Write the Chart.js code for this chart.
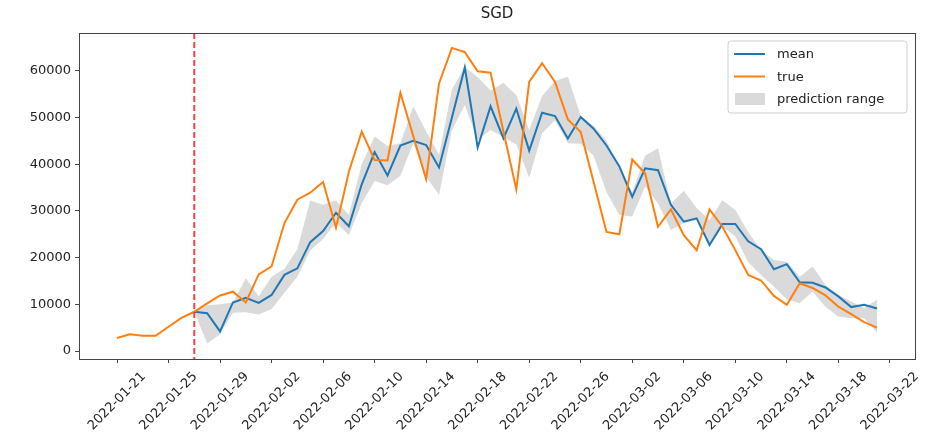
<!DOCTYPE html>
<html>
<head>
<meta charset="utf-8">
<title>SGD</title>
<script src="https://cdn.jsdelivr.net/npm/chart.js@4.4.1/dist/chart.umd.min.js"></script>
<style>
  html, body { margin: 0; padding: 0; background: #fff; }
  #wrap { width: 927px; height: 447px; }
</style>
</head>
<body>
<div id="wrap"><canvas id="sgdChart" width="927" height="447"></canvas></div>
<script>
// ==========================================
// DATA (one point per day, day 0 = 2022-01-21)
// ==========================================
const xTickLabels = ['2022-01-21', '2022-01-25', '2022-01-29', '2022-02-02', '2022-02-06', '2022-02-10',
    '2022-02-14', '2022-02-18', '2022-02-22', '2022-02-26', '2022-03-02', '2022-03-06',
    '2022-03-10', '2022-03-14', '2022-03-18', '2022-03-22'];
const xTickStep = 4;
const yTicks = [0, 10000, 20000, 30000, 40000, 50000, 60000];
const cutoffDay = 6; // 2022-01-27, red dashed line

const trueValues = [2780, 3600, 3270, 3270, 5200, 7100, 8400, 10200, 11900, 12700,
    10400, 16400, 18100, 27400, 32400, 33900, 36200, 26400, 38400, 47000,
    40900, 40800, 55300, 46000, 36800, 57300, 64900, 64000, 59900, 59600,
    47000, 34600, 57600, 61600, 57600, 49600, 46900, 36200, 25500, 25000,
    41000, 38000, 26600, 30300, 24800, 21600, 30300, 26600, 21600, 16300,
    15100, 11800, 9900, 14500, 13500, 11900, 9500, 7900, 6200, 5000];

const meanValues = [null, null, null, null, null, null, 8400, 8100, 4200, 10400,
    11400, 10300, 12000, 16300, 17700, 23300, 25700, 29600, 26700, 35700,
    42600, 37600, 44000, 45000, 44100, 39300, 50000, 60700, 43600, 52400,
    45500, 51900, 42900, 51000, 50300, 45500, 50100, 47600, 44000, 39500,
    33000, 39100, 38700, 31300, 27700, 28400, 22700, 27200, 27200, 23500,
    21800, 17500, 18600, 14700, 14600, 13600, 11700, 9400, 9900, 9100];

const rangeLow = [null, null, null, null, null, null, 8400, 1600, 3600, 8200,
    8300, 7800, 9000, 12500, 15900, 21500, 24000, 27500, 24800, 31700,
    36400, 35500, 37500, 44500, 37300, 33400, 47300, 52600, 45200, 47300,
    45800, 44200, 37100, 46600, 49400, 44500, 44400, 41800, 34000, 29100,
    28800, 35200, 31600, 25900, 27400, 28000, 22300, 26600, 24500, 19000,
    16300, 13800, 11000, 10300, 12700, 9500, 7400, 7000, 7000, 3900];

const rangeHigh = [null, null, null, null, null, null, 8400, 9800, 10000, 10400,
    15600, 11700, 15900, 17600, 21800, 32200, 31300, 32200, 29100, 40000,
    45900, 43900, 44500, 52400, 47000, 42000, 56000, 60800, 58600, 55800,
    57400, 54800, 47300, 54600, 57800, 58700, 50300, 48200, 45000, 39000,
    34000, 41800, 43400, 31600, 34300, 30600, 28000, 32300, 30200, 25500,
    21600, 19500, 19100, 15900, 18100, 14200, 12000, 10600, 9200, 11000];

const FONT = "'DejaVu Sans', sans-serif";
const BLUE = '#1f77b4';
const ORANGE = '#ff7f0e';
const GREY_FILL = 'rgba(150, 150, 150, 0.35)';

function toPoints(values) {
    return values.map((v, i) => ({ x: i, y: v })).filter(p => p.y !== null);
}

// ==========================================
// PLUGIN: frame, title, cutoff line, x labels, legend
// ==========================================
const decorPlugin = {
    id: 'decor',
    afterDraw(chart) {
        const ctx = chart.ctx;
        const area = chart.chartArea;
        const xs = chart.scales.x;

        // linea de corte roja
        const cx = xs.getPixelForValue(cutoffDay);
        ctx.save();
        ctx.strokeStyle = 'rgba(255, 30, 30, 0.85)';
        ctx.lineWidth = 2;
        ctx.setLineDash([6, 3]);
        ctx.beginPath();
        ctx.moveTo(cx, area.top);
        ctx.lineTo(cx, area.bottom);
        ctx.stroke();
        ctx.restore();

        // marco
        ctx.save();
        ctx.strokeStyle = '#444';
        ctx.lineWidth = 1;
        ctx.strokeRect(area.left + 0.5, area.top + 0.5, area.right - area.left, area.bottom - area.top);
        ctx.restore();

        // titulo
        ctx.save();
        ctx.fillStyle = '#222';
        ctx.font = '15px ' + FONT;
        ctx.textAlign = 'center';
        ctx.textBaseline = 'alphabetic';
        ctx.fillText('SGD', (area.left + area.right) / 2, 18);
        ctx.restore();

        // etiquetas del eje x (rotadas 45, centradas en el tick)
        ctx.save();
        ctx.fillStyle = '#222';
        ctx.font = '13px ' + FONT;
        ctx.textAlign = 'center';
        ctx.textBaseline = 'middle';
        xTickLabels.forEach((label, i) => {
            const px = xs.getPixelForValue(i * xTickStep);
            const w = ctx.measureText(label).width;
            const side = (w + 13) * Math.SQRT1_2;
            const cy = area.bottom + 11 + side / 2;
            ctx.save();
            ctx.translate(px, cy);
            ctx.rotate(-Math.PI / 4);
            ctx.fillText(label, 0, 0);
            ctx.restore();
        });
        ctx.restore();

        // leyenda
        const lx = 728, ly = 41, lw = 179, lh = 72, r = 3;
        ctx.save();
        ctx.fillStyle = 'rgba(255,255,255,0.85)';
        ctx.strokeStyle = '#d0d0d0';
        ctx.lineWidth = 1;
        ctx.beginPath();
        ctx.moveTo(lx + r, ly);
        ctx.lineTo(lx + lw - r, ly);
        ctx.quadraticCurveTo(lx + lw, ly, lx + lw, ly + r);
        ctx.lineTo(lx + lw, ly + lh - r);
        ctx.quadraticCurveTo(lx + lw, ly + lh, lx + lw - r, ly + lh);
        ctx.lineTo(lx + r, ly + lh);
        ctx.quadraticCurveTo(lx, ly + lh, lx, ly + lh - r);
        ctx.lineTo(lx, ly + r);
        ctx.quadraticCurveTo(lx, ly, lx + r, ly);
        ctx.closePath();
        ctx.fill();
        ctx.stroke();

        const items = [
            { text: 'mean', color: BLUE, y: 54 },
            { text: 'true', color: ORANGE, y: 76.5 },
            { text: 'prediction range', patch: true, y: 99 }
        ];
        ctx.font = '13px ' + FONT;
        ctx.textAlign = 'left';
        ctx.textBaseline = 'middle';
        items.forEach(it => {
            if (it.patch) {
                ctx.fillStyle = GREY_FILL;
                ctx.fillRect(735, it.y - 6, 30, 12);
            } else {
                ctx.strokeStyle = it.color;
                ctx.lineWidth = 2;
                ctx.beginPath();
                ctx.moveTo(734, it.y);
                ctx.lineTo(765, it.y);
                ctx.stroke();
            }
            ctx.fillStyle = '#222';
            ctx.fillText(it.text, 777, it.y + 1);
        });
        ctx.restore();
    }
};

// ==========================================
// GRAFICA
// ==========================================
const ctx = document.getElementById('sgdChart').getContext('2d');
new Chart(ctx, {
    type: 'line',
    data: {
        datasets: [
            {
                label: 'mean',
                data: toPoints(meanValues),
                borderColor: BLUE,
                borderWidth: 2,
                fill: false,
                order: 2
            },
            {
                label: 'true',
                data: toPoints(trueValues),
                borderColor: ORANGE,
                borderWidth: 2,
                fill: false,
                order: 1
            },
            {
                label: 'low',
                data: toPoints(rangeLow),
                borderColor: 'rgba(0,0,0,0)',
                borderWidth: 0,
                fill: false,
                order: 10
            },
            {
                label: 'prediction range',
                data: toPoints(rangeHigh),
                borderColor: 'rgba(0,0,0,0)',
                borderWidth: 0,
                backgroundColor: GREY_FILL,
                fill: '-1',
                order: 9
            }
        ]
    },
    options: {
        responsive: false,
        animation: false,
        devicePixelRatio: 1,
        layout: { padding: { top: 33, right: 12, left: 0, bottom: 0 } },
        elements: {
            point: { radius: 0, hoverRadius: 0 },
            line: { tension: 0 }
        },
        plugins: {
            legend: { display: false },
            title: { display: false },
            tooltip: { enabled: false }
        },
        scales: {
            x: {
                type: 'linear',
                min: -2.95,
                max: 61.95,
                afterBuildTicks: s => { s.ticks = xTickLabels.map((_, i) => ({ value: i * xTickStep })); },
                afterFit: s => { s.height = 88; },
                ticks: { display: false },
                grid: { display: true, drawOnChartArea: false, drawTicks: true, tickLength: 4, color: '#444' },
                border: { display: true, color: '#444' }
            },
            y: {
                min: -1710,
                max: 68085,
                afterBuildTicks: s => { s.ticks = yTicks.map(v => ({ value: v })); },
                afterFit: s => { s.width = 79; },
                ticks: {
                    color: '#222',
                    font: { family: FONT, size: 13 },
                    padding: 4,
                    callback: v => String(v)
                },
                grid: { display: true, drawOnChartArea: false, drawTicks: true, tickLength: 4, color: '#444' },
                border: { display: true, color: '#444' }
            }
        }
    },
    plugins: [decorPlugin]
});
</script>
</body>
</html>
